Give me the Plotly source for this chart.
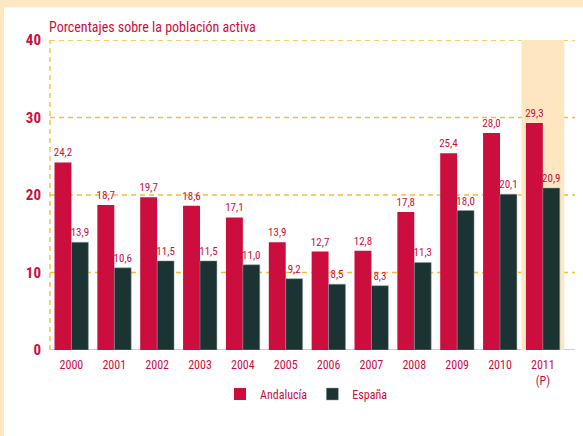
import plotly.graph_objects as go

years = ["2000", "2001", "2002", "2003", "2004", "2005", "2006", "2007", "2008", "2009", "2010", "2011<br>(P)"]
andalucia = [24.2, 18.7, 19.7, 18.6, 17.1, 13.9, 12.7, 12.8, 17.8, 25.4, 28.0, 29.3]
espana = [13.9, 10.6, 11.5, 11.5, 11.0, 9.2, 8.5, 8.3, 11.3, 18.0, 20.1, 20.9]
y_ticks = [0, 10, 20, 30, 40]

RED = "#CC0E3F"
DARK = "#1C3334"
ORANGE = "#F8BB3A"
BAND = "#FDE6C0"
BG = "#FDE8C3"
FONT = "Roboto Condensed, DejaVu Sans Condensed, sans-serif"

W, H = 583, 436
L, R, T, B = 50, 8, 40, 86
PW, PH = W - L - R, H - T - B


def fmt(v):
    return f"{v:.1f}".replace(".", ",")


def px_x(p):
    return (p - L) / PW


def px_y(p):
    return (H - B - p) / PH


fig = go.Figure()
fig.add_trace(go.Bar(x=years, y=andalucia, name="Andalucía", marker_color=RED,
                     marker_line_width=0,
                     text=[fmt(v) for v in andalucia], textposition="outside",
                     constraintext="none",
                     textfont=dict(color=RED, size=11, family=FONT), cliponaxis=False))
fig.add_trace(go.Bar(x=years, y=espana, name="España", marker_color=DARK,
                     marker_line=dict(color="#8FA0A0", width=0.5),
                     text=[fmt(v) for v in espana], textposition="outside",
                     constraintext="none",
                     textfont=dict(color=RED, size=11, family=FONT), cliponaxis=False))

shapes = [
    # white panel
    dict(type="rect", xref="paper", yref="paper", x0=px_x(4), x1=px_x(W + 10),
         y0=px_y(H + 10), y1=px_y(7.5), fillcolor="white", line_width=0, layer="below"),
    # 2011 band
    dict(type="rect", xref="x", yref="y", x0=10.5, x1=11.5, y0=0, y1=40,
         fillcolor=BAND, line_width=0, layer="below"),
    # dashed y-axis line
    dict(type="line", xref="paper", yref="y", x0=0, x1=0, y0=0, y1=40,
         line=dict(color=ORANGE, width=1.3, dash="5px,4px"), layer="below"),
]
for v in y_ticks[1:]:
    shapes.append(dict(type="line", xref="paper", yref="y", x0=0, x1=1, y0=v, y1=v,
                       line=dict(color=ORANGE, width=1.3, dash="5px,4px"), layer="below"))
shapes.append(dict(type="line", xref="paper", yref="y", x0=0, x1=1, y0=0, y1=0,
                   line=dict(color=ORANGE, width=1.5), layer="below"))

fig.update_layout(
    width=W, height=H,
    paper_bgcolor=BG, plot_bgcolor="rgba(0,0,0,0)",
    margin=dict(l=L, r=R, t=T, b=B),
    barmode="group", bargap=0.21, bargroupgap=0,
    shapes=shapes,
    title=dict(text="Porcentajes sobre la población activa", x=49 / W, xanchor="left",
               y=1 - 27 / H, yanchor="middle",
               font=dict(color=RED, size=14, family=FONT)),
    legend=dict(orientation="h", x=px_x(220), xanchor="left", y=px_y(394), yanchor="middle",
                font=dict(color=RED, size=12, family=FONT),
                traceorder="normal", bgcolor="rgba(0,0,0,0)"),
    showlegend=True,
)
fig.update_xaxes(range=[-0.5, 11.75], showgrid=False, showline=False, ticks="",
                 ticklabelstandoff=6, zeroline=False,
                 tickfont=dict(color=RED, size=12, family=FONT))
fig.update_yaxes(range=[0, 40], tickvals=y_ticks, showgrid=False, zeroline=False,
                 showline=False, ticks="", ticklabelstandoff=8,
                 tickfont=dict(color=RED, size=15, family=FONT, weight="bold"))

fig.write_html("out.html", config={"displayModeBar": False},
               post_script="document.body.style.margin='0';")
